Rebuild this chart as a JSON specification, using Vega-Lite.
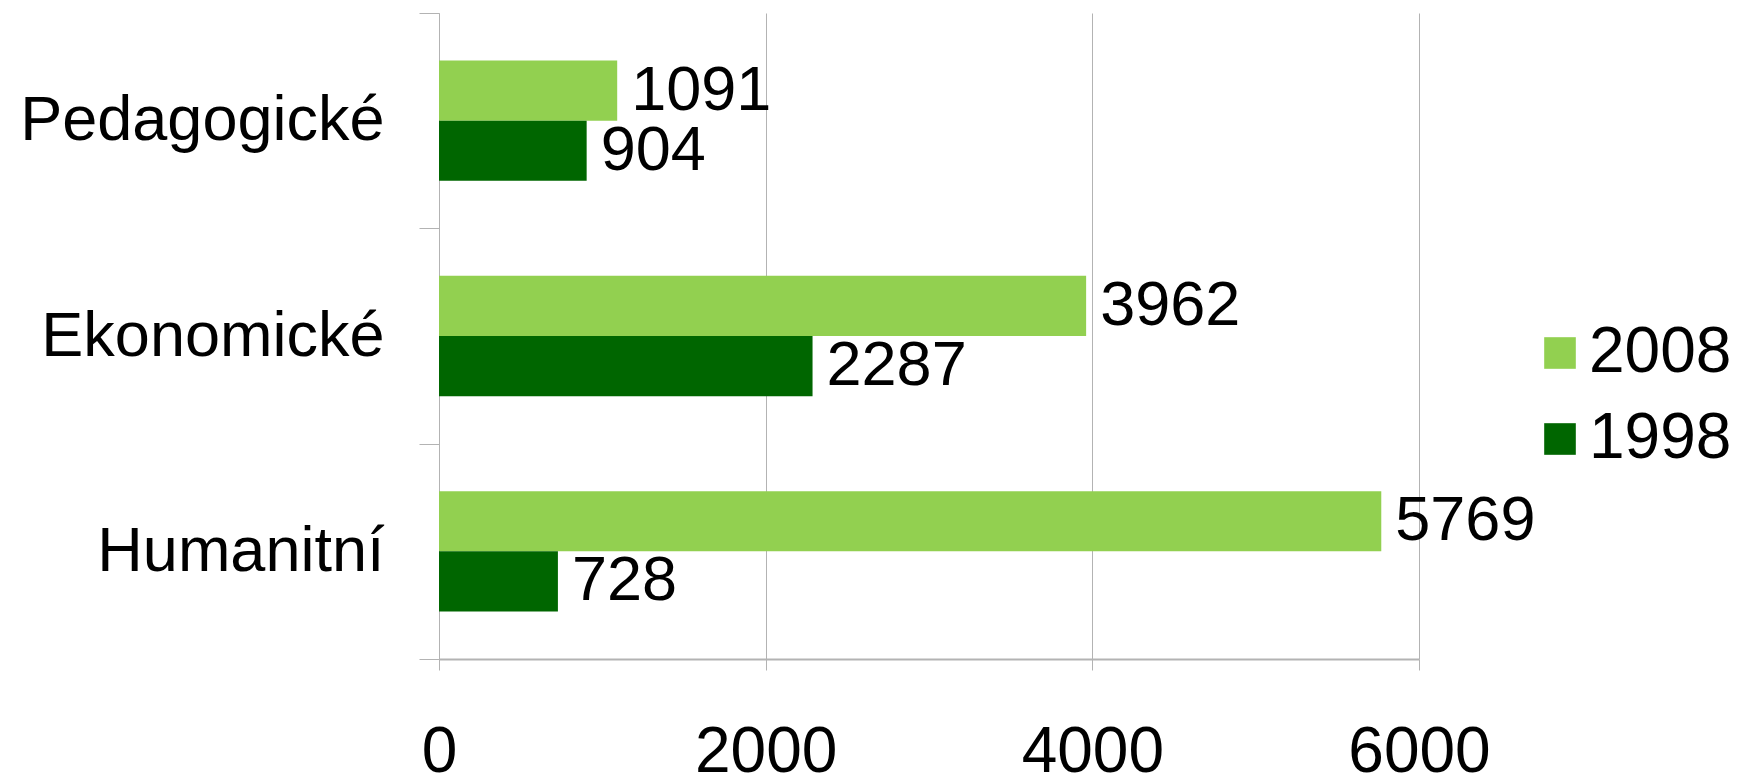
{
  "$schema": "https://vega.github.io/schema/vega-lite/v6.json",
  "width": 980,
  "height": 646,
  "autosize": {"type": "none"},
  "padding": {"left": 439, "top": 13, "right": 318, "bottom": 118},
  "background": "white",
  "config": {
    "font": "Liberation Sans",
    "view": {"stroke": null}
  },
  "data": {
    "values": [
      {"obor": "Pedagogické", "rok": "2008", "pocet": 1091},
      {"obor": "Pedagogické", "rok": "1998", "pocet": 904},
      {"obor": "Ekonomické", "rok": "2008", "pocet": 3962},
      {"obor": "Ekonomické", "rok": "1998", "pocet": 2287},
      {"obor": "Humanitní", "rok": "2008", "pocet": 5769},
      {"obor": "Humanitní", "rok": "1998", "pocet": 728}
    ]
  },
  "encoding": {
    "y": {
      "field": "obor",
      "type": "nominal",
      "sort": ["Pedagogické", "Ekonomické", "Humanitní"],
      "scale": {"paddingInner": 0, "paddingOuter": 0},
      "axis": {
        "title": null,
        "tickBand": "extent",
        "tickSize": 20,
        "tickColor": "#b3b3b3",
        "domainColor": "#b3b3b3",
        "labelFontSize": 63,
        "labelColor": "#000000",
        "labelPadding": 35,
        "labelLimit": 1000,
        "labelFont": "Liberation Sans"
      }
    },
    "yOffset": {
      "field": "rok",
      "type": "nominal",
      "sort": ["2008", "1998"],
      "scale": {"paddingInner": 0, "paddingOuter": 0.79}
    },
    "x": {
      "field": "pocet",
      "type": "quantitative",
      "scale": {"domain": [0, 6000], "nice": false},
      "axis": {
        "title": null,
        "values": [0, 2000, 4000, 6000],
        "format": "d",
        "labelFlush": false,
        "grid": true,
        "gridColor": "#b3b3b3",
        "tickColor": "#b3b3b3",
        "domainColor": "#b3b3b3",
        "domainWidth": 2,
        "tickSize": 11,
        "labelFontSize": 64,
        "labelColor": "#000000",
        "labelPadding": 50,
        "labelFont": "Liberation Sans"
      }
    }
  },
  "layer": [
    {
      "mark": {"type": "bar"},
      "encoding": {
        "color": {
          "field": "rok",
          "type": "nominal",
          "scale": {"domain": ["2008", "1998"], "range": ["#92d050", "#006600"]},
          "legend": {
            "title": null,
            "orient": "none",
            "legendX": 1089,
            "legendY": 308,
            "symbolType": "square",
            "symbolSize": 1000,
            "symbolStrokeWidth": 0,
            "labelFontSize": 64,
            "labelColor": "#000000",
            "labelOffset": -3,
            "rowPadding": 22,
            "labelLimit": 1000,
            "labelFont": "Liberation Sans"
          }
        }
      }
    },
    {
      "mark": {"type": "text", "align": "left", "baseline": "middle", "dx": 14, "fontSize": 63, "color": "#000000"},
      "encoding": {
        "text": {"field": "pocet", "type": "quantitative", "format": "d"}
      }
    }
  ]
}
